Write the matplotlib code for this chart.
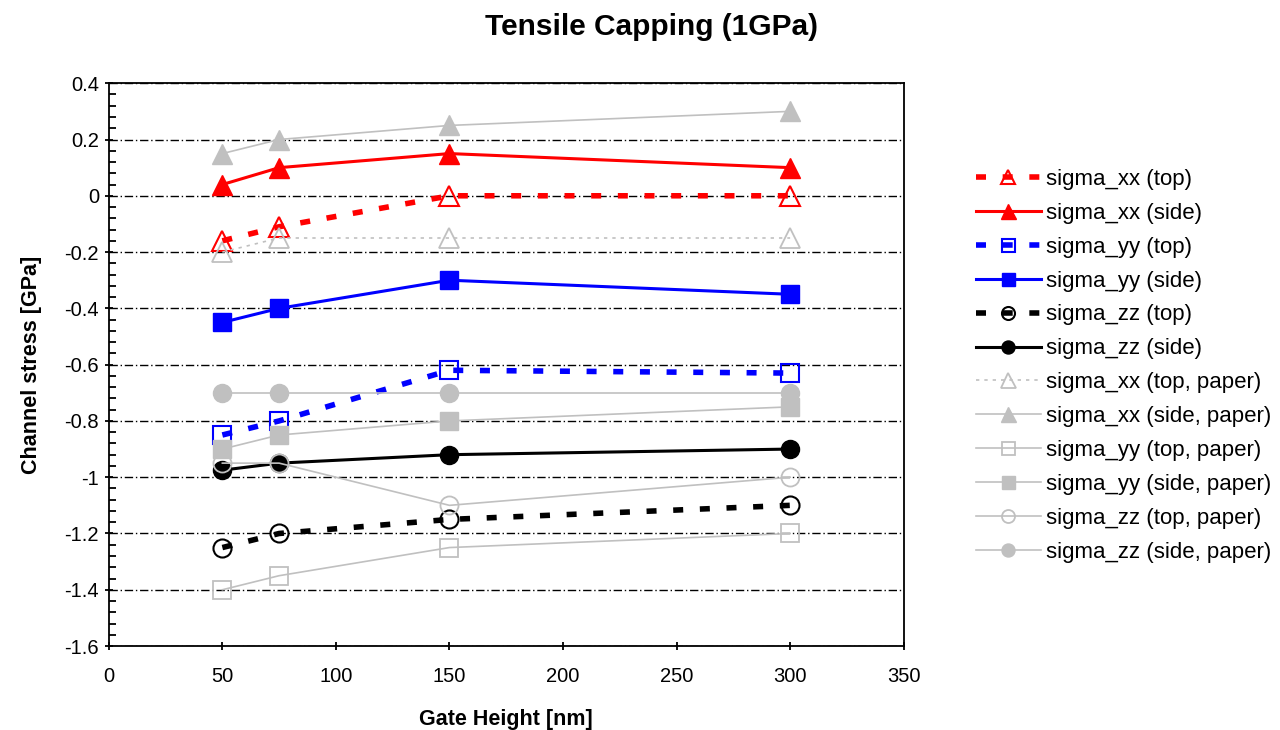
import matplotlib.pyplot as plt
import numpy as np
from matplotlib.ticker import MultipleLocator

plt.rcParams['font.family'] = ['Liberation Sans', 'DejaVu Sans']

gate_height = [50, 75, 150, 300]

sxx_top = [-0.16, -0.11, 0.0, 0.0]
sxx_side = [0.04, 0.10, 0.15, 0.10]
syy_top = [-0.85, -0.80, -0.62, -0.63]
syy_side = [-0.45, -0.40, -0.30, -0.35]
szz_top = [-1.25, -1.20, -1.15, -1.10]
szz_side = [-0.975, -0.95, -0.92, -0.90]

sxx_top_paper = [-0.20, -0.15, -0.15, -0.15]
sxx_side_paper = [0.15, 0.20, 0.25, 0.30]
syy_top_paper = [-1.40, -1.35, -1.25, -1.20]
syy_side_paper = [-0.90, -0.85, -0.80, -0.75]
szz_top_paper = [-0.95, -0.95, -1.10, -1.00]
szz_side_paper = [-0.70, -0.70, -0.70, -0.70]

grey = '#c0c0c0'
dash = (0, (1.8, 3.0))

series = [
    ('sigma_xx (top)', sxx_top, dict(color='red', ls=dash, lw=4, marker='^', ms=14, mfc='none', mew=1.5)),
    ('sigma_xx (side)', sxx_side, dict(color='red', ls='-', lw=2.2, marker='^', ms=15)),
    ('sigma_yy (top)', syy_top, dict(color='blue', ls=dash, lw=4, marker='s', ms=13, mfc='none', mew=1.5)),
    ('sigma_yy (side)', syy_side, dict(color='blue', ls='-', lw=2.2, marker='s', ms=13)),
    ('sigma_zz (top)', szz_top, dict(color='black', ls=dash, lw=4, marker='o', ms=13, mfc='none', mew=1.5)),
    ('sigma_zz (side)', szz_side, dict(color='black', ls='-', lw=2.2, marker='o', ms=13)),
    ('sigma_xx (top, paper)', sxx_top_paper, dict(color=grey, ls=(0, (2, 3)), lw=1.2, marker='^', ms=15, mfc='none', mew=1.3)),
    ('sigma_xx (side, paper)', sxx_side_paper, dict(color=grey, ls='-', lw=1.2, marker='^', ms=15)),
    ('sigma_yy (top, paper)', syy_top_paper, dict(color=grey, ls='-', lw=1.2, marker='s', ms=13, mfc='none', mew=1.3)),
    ('sigma_yy (side, paper)', syy_side_paper, dict(color=grey, ls='-', lw=1.2, marker='s', ms=13)),
    ('sigma_zz (top, paper)', szz_top_paper, dict(color=grey, ls='-', lw=1.2, marker='o', ms=13, mfc='none', mew=1.3)),
    ('sigma_zz (side, paper)', szz_side_paper, dict(color=grey, ls='-', lw=1.2, marker='o', ms=13)),
]

fig = plt.figure(figsize=(12.8, 7.3), dpi=100)
ax = fig.add_axes([0.085, 0.115, 0.621, 0.771])

for label, vals, style in series:
    ax.plot(gate_height, vals, label=label, clip_on=False, **style)

ax.set_xlim(0, 350)
ax.set_ylim(-1.6, 0.4)
ax.xaxis.set_major_locator(MultipleLocator(50))
ax.yaxis.set_major_locator(MultipleLocator(0.2))
ax.yaxis.set_minor_locator(MultipleLocator(0.04))
ax.set_yticklabels([f'{v:.1f}'.rstrip('0').rstrip('.') if abs(v) > 1e-9 else '0'
                    for v in ax.get_yticks()])
ax.tick_params(axis='both', which='major', labelsize=14.5, length=6, width=1.3, direction='inout')
ax.tick_params(axis='y', which='major', pad=4)
ax.tick_params(axis='x', which='major', pad=12)
ax.tick_params(axis='y', which='minor', length=5, width=1.3, direction='in')
ax.grid(axis='y', which='major', color='black', ls=(0, (6, 2, 1, 2)), lw=1)
ax.set_axisbelow(True)
for s in ax.spines.values():
    s.set_linewidth(1.3)

ax.set_xlabel('Gate Height [nm]', fontsize=15.5, fontweight='bold', labelpad=17)
ax.set_ylabel('Channel stress [GPa]', fontsize=15.5, fontweight='bold', labelpad=16)
fig.suptitle('Tensile Capping (1GPa)', fontsize=21.5, fontweight='bold', x=0.509, y=0.982)

fig.legend(loc='upper left', bbox_to_anchor=(0.747, 0.796), frameon=False,
           fontsize=16, handlelength=2.9, labelspacing=0.58, markerscale=0.72,
           handletextpad=0.25)

plt.savefig('out.png', dpi=100)
